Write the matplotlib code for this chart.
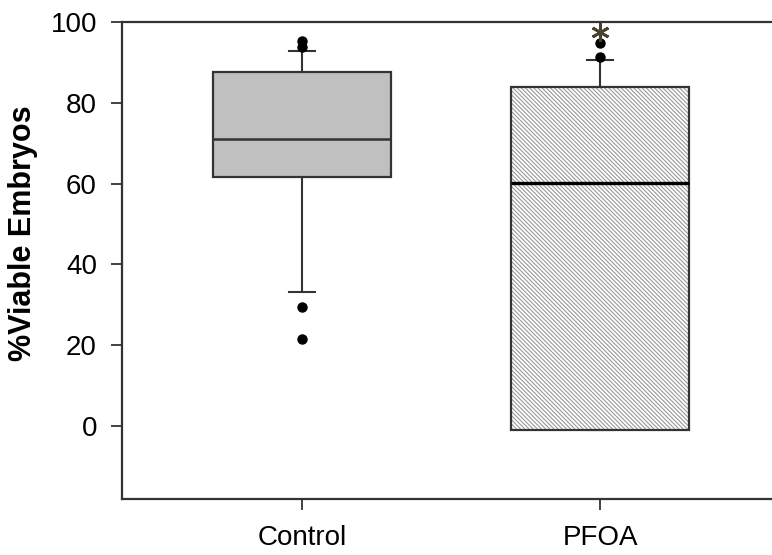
import matplotlib
matplotlib.use("Agg")
import matplotlib.pyplot as plt
from matplotlib.patches import PathPatch

plt.rcParams['font.family'] = ['Liberation Sans', 'DejaVu Sans']
plt.rcParams['hatch.linewidth'] = 0.8

# values
groups = ["Control", "PFOA"]
q1 = [61.7, -1.2]
med = [71.1, 60.1]
q3 = [87.7, 84.0]
whislo = [33.2, -1.2]
whishi = [92.9, 90.8]
fliers = [[95.4, 93.8, 29.3, 21.4], [94.8, 91.5]]
star_y = 97.6

stats = []
for i, g in enumerate(groups):
    stats.append(dict(label=g, q1=q1[i], med=med[i], q3=q3[i],
                      whislo=whislo[i], whishi=whishi[i], fliers=fliers[i]))

fig = plt.figure(figsize=(7.72, 5.55), dpi=100)
ax = fig.add_axes([0.158, 0.101, 0.842, 0.8585])

edge = '#333333'
bp = ax.bxp(stats, positions=[1, 2], widths=0.597, patch_artist=True,
            capwidths=[0.088, 0.088],
            boxprops=dict(facecolor='#c0c0c0', edgecolor=edge, linewidth=1.6),
            medianprops=dict(color=edge, linewidth=1.8),
            whiskerprops=dict(color=edge, linewidth=1.5),
            capprops=dict(color=edge, linewidth=1.5),
            flierprops=dict(marker='o', markerfacecolor='black',
                            markeredgecolor='black', markersize=6.5))

# hatched PFOA box: hatch in grey, outline drawn on top
box = bp['boxes'][1]
box.set_facecolor('white')
box.set_edgecolor('#999999')
box.set_linewidth(0)
box.set_hatch('\\' * 8)
ax.add_patch(PathPatch(box.get_path(), facecolor='none', edgecolor=edge,
                       linewidth=1.6, zorder=box.get_zorder() + 0.1))
bp['medians'][1].set_color('black')
bp['medians'][1].set_linewidth(2.4)
bp['medians'][1].set_zorder(box.get_zorder() + 0.2)

# significance mark
ax.plot([2], [star_y], linestyle='none', marker=(6, 2, 0), markersize=13,
        markeredgewidth=2, color='#4a4030')

ax.set_xlim(0.396, 2.577)
ax.set_ylim(-18.2, 100)
ax.set_yticks([0, 20, 40, 60, 80, 100])
ax.set_ylabel('%Viable Embryos', fontsize=22, fontweight='bold')
ax.yaxis.set_label_coords(-0.129, 0.558)

ax.spines['right'].set_visible(False)
for s in ['left', 'bottom', 'top']:
    ax.spines[s].set_color(edge)
    ax.spines[s].set_linewidth(1.6)

ax.tick_params(axis='y', direction='out', length=8, width=1.3, color=edge,
               labelsize=20, pad=10)
ax.tick_params(axis='x', direction='out', length=8, width=1.3, color=edge,
               labelsize=20, pad=11)

fig.savefig('out.png', dpi=100)
